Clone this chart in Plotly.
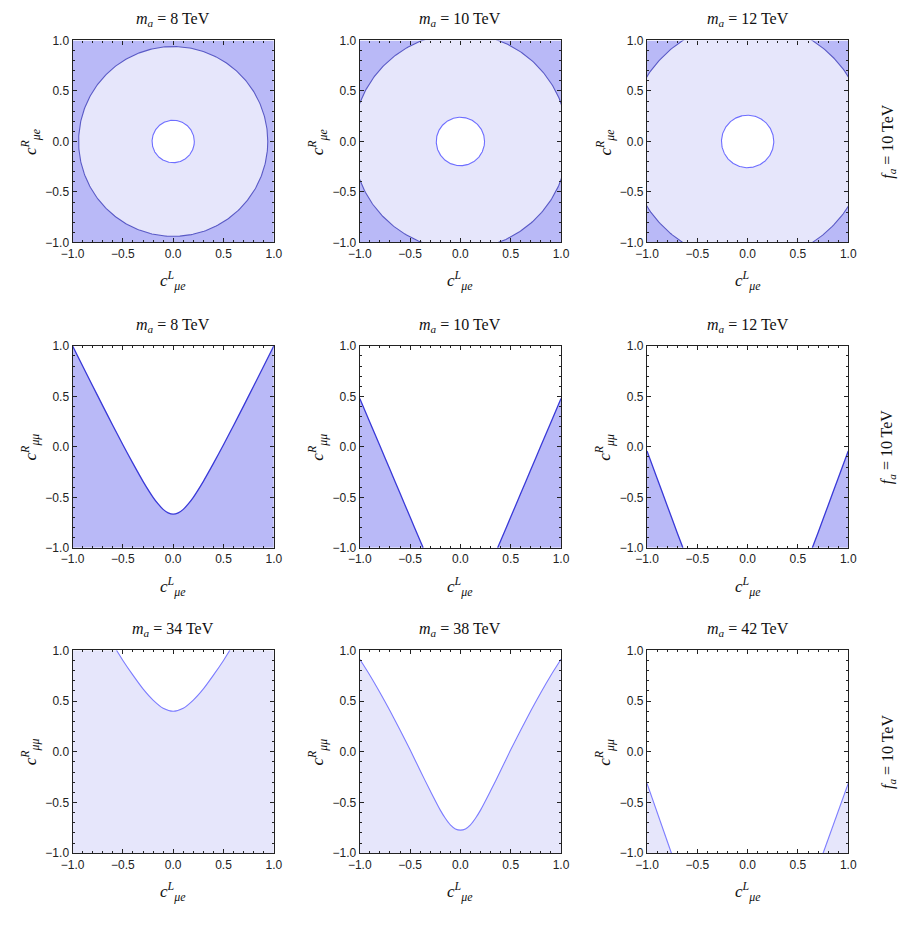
import numpy as np
import plotly.graph_objects as go

# ---------------- data ----------------
row_masses = [["8", "10", "12"], ["8", "10", "12"], ["34", "38", "42"]]
fa_value = "10"

# Row 1: c^R_{mu e} vs c^L_{mu e}; boundary circles (radii)
row1_outer_radius = [0.94, 1.07, 1.19]
row1_inner_radius = [0.21, 0.24, 0.26]

# Row 2: c^R_{mu mu} boundary curves (region below the curve shaded)
r2_m8_x = [-1.0, -0.9, -0.8, -0.7, -0.6, -0.5, -0.4, -0.3, -0.2, -0.15, -0.1, -0.05, 0.0,
           0.05, 0.1, 0.15, 0.2, 0.3, 0.4, 0.5, 0.6, 0.7, 0.8, 0.9, 1.0]
r2_m8_y = [1.0, 0.801, 0.603, 0.406, 0.212, 0.021, -0.164, -0.341, -0.499, -0.565, -0.619, -0.654, -0.667,
           -0.654, -0.619, -0.565, -0.499, -0.341, -0.164, 0.021, 0.212, 0.406, 0.603, 0.801, 1.0]
r2_m10_left_x = [-1.0, -0.9, -0.8, -0.7, -0.6, -0.5, -0.4, -0.37]
r2_m10_left_y = [0.48, 0.245, 0.01, -0.225, -0.46, -0.695, -0.93, -1.0]
r2_m10_right_x = [0.37, 0.4, 0.5, 0.6, 0.7, 0.8, 0.9, 1.0]
r2_m10_right_y = [-1.0, -0.93, -0.695, -0.46, -0.225, 0.01, 0.245, 0.48]
r2_m12_left_x = [-1.0, -0.9, -0.8, -0.7, -0.643]
r2_m12_left_y = [-0.04, -0.31, -0.58, -0.85, -1.0]
r2_m12_right_x = [0.643, 0.7, 0.8, 0.9, 1.0]
r2_m12_right_y = [-1.0, -0.85, -0.58, -0.31, -0.04]

# Row 3: c^R_{mu mu} boundary curves (light shading)
r3_m34_x = [-0.563, -0.5, -0.4, -0.3, -0.2, -0.1, 0.0, 0.1, 0.2, 0.3, 0.4, 0.5, 0.563]
r3_m34_y = [1.0, 0.90, 0.755, 0.62, 0.51, 0.43, 0.40, 0.43, 0.51, 0.62, 0.755, 0.90, 1.0]
r3_m38_x = [-1.0, -0.9, -0.8, -0.7, -0.6, -0.5, -0.4, -0.3, -0.2, -0.15, -0.1, -0.05, 0.0,
            0.05, 0.1, 0.15, 0.2, 0.3, 0.4, 0.5, 0.6, 0.7, 0.8, 0.9, 1.0]
r3_m38_y = [0.912, 0.755, 0.585, 0.405, 0.215, 0.02, -0.185, -0.385, -0.575, -0.655, -0.72, -0.76, -0.772,
            -0.76, -0.72, -0.655, -0.575, -0.385, -0.185, 0.02, 0.215, 0.405, 0.585, 0.755, 0.912]
r3_m42_left_x = [-1.0, -0.757]
r3_m42_left_y = [-0.311, -1.0]
r3_m42_right_x = [0.750, 1.0]
r3_m42_right_y = [-1.0, -0.311]

x_label = "<i>c</i><sup><i>L</i></sup><sub><i>μe</i></sub>"
y_labels = ["<i>c</i><sup><i>R</i></sup><sub><i>μe</i></sub>",
            "<i>c</i><sup><i>R</i></sup><sub><i>μμ</i></sub>",
            "<i>c</i><sup><i>R</i></sup><sub><i>μμ</i></sub>"]
ax_min, ax_max = -1.0, 1.0

# ---------------- styles ----------------
DARK = "#b9b9f7"
LIGHT = "#e6e6fb"
LINE_OUTER = "#5a5ac6"
LINE_INNER = "#6e6eff"
LINE_ROW2 = "#3a3ad8"
LINE_ROW3 = "#7c7cff"
SERIF = "Liberation Serif, Times New Roman, serif"
SANS = "Liberation Sans, Arial, sans-serif"

W, H = 910, 943
col_px = [(62, 268), (356, 562), (650, 856)]
row_px = [(34, 239), (344, 549), (653, 859)]

fig = go.Figure()


def ax(i):
    return ("x" if i == 0 else f"x{i+1}"), ("y" if i == 0 else f"y{i+1}")


def add_fill(xs, ys, color, xa, ya):
    fig.add_trace(go.Scatter(x=xs, y=ys, mode="lines", fill="toself", fillcolor=color,
                             line=dict(width=0), hoverinfo="skip", showlegend=False,
                             xaxis=xa, yaxis=ya))


def add_line(xs, ys, color, width, xa, ya):
    fig.add_trace(go.Scatter(x=xs, y=ys, mode="lines",
                             line=dict(color=color, width=width, shape="spline", smoothing=0.8),
                             hoverinfo="skip", showlegend=False, xaxis=xa, yaxis=ya))


theta = np.linspace(0, 2 * np.pi, 361)

for r in range(3):
    for c in range(3):
        i = r * 3 + c
        xa, ya = ax(i)
        if r == 0:
            Ro = row1_outer_radius[c]
            Ri = row1_inner_radius[c]
            add_fill([ax_min, ax_max, ax_max, ax_min, ax_min],
                     [ax_min, ax_min, ax_max, ax_max, ax_min], DARK, xa, ya)
            fig.add_trace(go.Scatter(
                x=Ro * np.cos(theta), y=Ro * np.sin(theta), mode="lines",
                fill="toself", fillcolor=LIGHT, line=dict(color=LINE_OUTER, width=1.1),
                hoverinfo="skip", showlegend=False, xaxis=xa, yaxis=ya))
            fig.add_trace(go.Scatter(
                x=Ri * np.cos(theta), y=Ri * np.sin(theta), mode="lines",
                fill="toself", fillcolor="white", line=dict(color=LINE_INNER, width=1.1),
                hoverinfo="skip", showlegend=False, xaxis=xa, yaxis=ya))
        elif r == 1:
            if c == 0:
                pieces = [(r2_m8_x, r2_m8_y)]
            elif c == 1:
                pieces = [(r2_m10_left_x, r2_m10_left_y), (r2_m10_right_x, r2_m10_right_y)]
            else:
                pieces = [(r2_m12_left_x, r2_m12_left_y), (r2_m12_right_x, r2_m12_right_y)]
            for px_, py_ in pieces:
                fx = list(px_) + [px_[-1], px_[0], px_[0]]
                fy = list(py_) + [ax_min, ax_min, py_[0]]
                add_fill(fx, fy, DARK, xa, ya)
                add_line(px_, py_, LINE_ROW2, 1.3, xa, ya)
        else:
            if c == 0:
                fx = [ax_min, ax_min] + r3_m34_x + [ax_max, ax_max, ax_min]
                fy = [ax_min, ax_max] + r3_m34_y + [ax_max, ax_min, ax_min]
                add_fill(fx, fy, LIGHT, xa, ya)
                pieces = [(r3_m34_x, r3_m34_y)]
            elif c == 1:
                fx = r3_m38_x + [ax_max, ax_min, r3_m38_x[0]]
                fy = r3_m38_y + [ax_min, ax_min, r3_m38_y[0]]
                add_fill(fx, fy, LIGHT, xa, ya)
                pieces = [(r3_m38_x, r3_m38_y)]
            else:
                pieces = [(r3_m42_left_x, r3_m42_left_y), (r3_m42_right_x, r3_m42_right_y)]
                for px_, py_ in pieces:
                    fx = list(px_) + [px_[-1], px_[0], px_[0]]
                    fy = list(py_) + [ax_min, ax_min, py_[0]]
                    add_fill(fx, fy, LIGHT, xa, ya)
            for px_, py_ in pieces:
                add_line(px_, py_, LINE_ROW3, 1.1, xa, ya)

layout = dict(width=W, height=H, margin=dict(l=0, r=0, t=0, b=0),
              paper_bgcolor="white", plot_bgcolor="white", showlegend=False)

axis_common = dict(range=[ax_min, ax_max], showgrid=False, zeroline=False,
                   showline=True, linecolor="#222222", linewidth=1.2, mirror="ticks",
                   ticks="inside", ticklen=4, tickwidth=1, tickcolor="#222222",
                   dtick=0.5, tick0=0, tickformat=".1f",
                   minor=dict(ticks="inside", ticklen=2, dtick=0.1, tickcolor="#222222", tickwidth=1),
                   tickfont=dict(family=SANS, size=12, color="#222222"),
                   fixedrange=True)

annotations = []
lab_font = dict(family=SERIF, size=17, color="#111")
for r in range(3):
    for c in range(3):
        i = r * 3 + c
        xa, ya = ax(i)
        x0, x1 = col_px[c]
        y0, y1 = row_px[r]
        xd = [x0 / W, x1 / W]
        yd = [1 - y1 / H, 1 - y0 / H]
        xkey = "xaxis" if i == 0 else f"xaxis{i+1}"
        ykey = "yaxis" if i == 0 else f"yaxis{i+1}"
        layout[xkey] = dict(axis_common, domain=xd, anchor=ya)
        layout[ykey] = dict(axis_common, domain=yd, anchor=xa)
        # panel title
        annotations.append(dict(
            text=f"<i>m</i><sub><i>a</i></sub> = {row_masses[r][c]} TeV",
            x=(x0 + x1) / 2 / W, y=1 - (y0 - 21) / H, xref="paper", yref="paper",
            xanchor="center", yanchor="middle", showarrow=False,
            font=dict(family=SERIF, size=16, color="#111")))
        # x-axis title
        annotations.append(dict(
            text=x_label, x=(x0 + x1) / 2 / W, y=1 - (y1 + 39) / H,
            xref="paper", yref="paper", xanchor="center", yanchor="middle",
            showarrow=False, font=lab_font))
        # y-axis title
        annotations.append(dict(
            text=y_labels[r], x=(x0 - 43) / W, y=1 - (y0 + y1) / 2 / H,
            xref="paper", yref="paper", xanchor="center", yanchor="middle",
            showarrow=False, textangle=-90, font=lab_font))
    annotations.append(dict(
        text=f"<i>f</i><sub><i>a</i></sub> = {fa_value} TeV",
        x=897 / W, y=1 - (row_px[r][0] + row_px[r][1]) / 2 / H, xref="paper", yref="paper",
        xanchor="center", yanchor="middle", showarrow=False, textangle=-90,
        font=dict(family=SERIF, size=16, color="#111")))

layout["annotations"] = annotations
fig.update_layout(**layout)
fig.write_html("out.html")
